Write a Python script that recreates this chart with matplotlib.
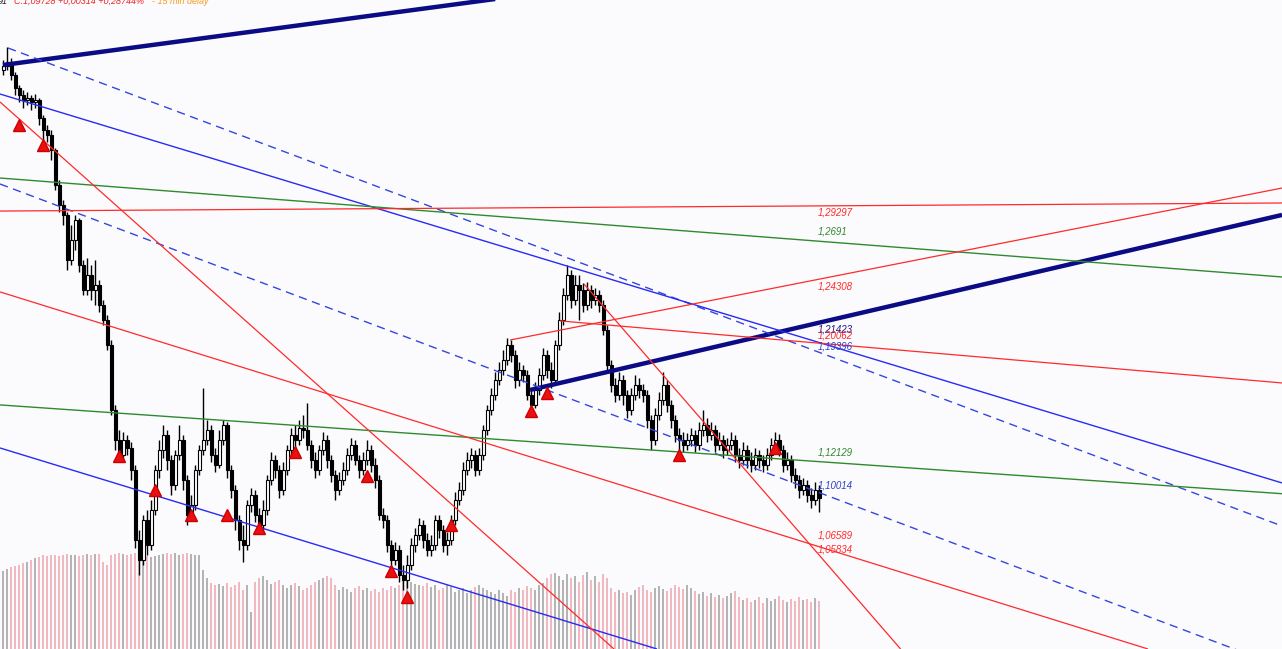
import matplotlib.pyplot as plt
import numpy as np

# 15 min candles, bar index 0..204
closes = [1.3862, 1.3888, 1.3801, 1.3714, 1.3667, 1.3634, 1.3647, 1.3621, 1.3634, 1.3514,
          1.3433, 1.3400, 1.3300, 1.3065, 1.2931, 1.2865, 1.2564, 1.2698, 1.2831, 1.2530,
          1.2363, 1.2463, 1.2363, 1.2396, 1.2263, 1.2162, 1.1995, 1.1560, 1.1359, 1.1259,
          1.1359, 1.1306, 1.1159, 1.0691, 1.0557, 1.0824, 1.0657, 1.0891, 1.1159, 1.1292,
          1.1393, 1.1226, 1.1058, 1.1259, 1.1359, 1.1092, 1.0858, 1.0925, 1.1159, 1.1292,
          1.1359, 1.1426, 1.1259, 1.1192, 1.1359, 1.1460, 1.1159, 1.1025, 1.0824, 1.0691,
          1.0657, 1.0925, 1.0991, 1.0858, 1.0791, 1.0891, 1.1092, 1.1226, 1.1159, 1.1025,
          1.1159, 1.1292, 1.1393, 1.1359, 1.1440, 1.1426, 1.1326, 1.1226, 1.1159, 1.1292,
          1.1359, 1.1226, 1.1125, 1.1025, 1.1092, 1.1159, 1.1259, 1.1326, 1.1226, 1.1159,
          1.1226, 1.1292, 1.1192, 1.1092, 1.0858, 1.0824, 1.0657, 1.0557, 1.0624, 1.0456,
          1.0423, 1.0523, 1.0657, 1.0724, 1.0791, 1.0691, 1.0624, 1.0657, 1.0824, 1.0757,
          1.0657, 1.0691, 1.0824, 1.0958, 1.1025, 1.1159, 1.1226, 1.1259, 1.1159, 1.1259,
          1.1426, 1.1560, 1.1660, 1.1761, 1.1828, 1.1895, 1.1995, 1.1928, 1.1761, 1.1828,
          1.1794, 1.1660, 1.1594, 1.1694, 1.1794, 1.1928, 1.1828, 1.1761, 1.1995, 1.2162,
          1.2329, 1.2463, 1.2296, 1.2396, 1.2363, 1.2263, 1.2363, 1.2296, 1.2329, 1.2263,
          1.2095, 1.1861, 1.1727, 1.1660, 1.1761, 1.1660, 1.1560, 1.1660, 1.1727, 1.1694,
          1.1660, 1.1493, 1.1359, 1.1527, 1.1627, 1.1727, 1.1594, 1.1493, 1.1393, 1.1359,
          1.1326, 1.1359, 1.1393, 1.1326, 1.1426, 1.1460, 1.1393, 1.1426, 1.1326, 1.1359,
          1.1292, 1.1326, 1.1359, 1.1259, 1.1226, 1.1292, 1.1226, 1.1192, 1.1259, 1.1226,
          1.1192, 1.1259, 1.1326, 1.1359, 1.1292, 1.1192, 1.1226, 1.1125, 1.1092, 1.1025,
          1.1058, 1.0991, 1.0958, 1.1025, 1.0973]

highs = [1.3902, 1.3989, 1.3915, 1.3821, 1.3734, 1.3701, 1.3688, 1.3667, 1.3674, 1.3647,
         1.3534, 1.3467, 1.3433, 1.3313, 1.3099, 1.2965, 1.2885, 1.2798, 1.2865, 1.2845,
         1.2564, 1.2577, 1.2530, 1.2564, 1.2430, 1.2296, 1.2196, 1.2028, 1.1594, 1.1426,
         1.1413, 1.1393, 1.1346, 1.1192, 1.0757, 1.0858, 1.0891, 1.0958, 1.1192, 1.1359,
         1.1460, 1.1426, 1.1259, 1.1292, 1.1460, 1.1393, 1.1125, 1.0991, 1.1192, 1.1326,
         1.1707, 1.1493, 1.1460, 1.1306, 1.1426, 1.1493, 1.1480, 1.1192, 1.1058, 1.0858,
         1.0791, 1.0958, 1.1038, 1.1025, 1.0905, 1.0958, 1.1125, 1.1279, 1.1259, 1.1192,
         1.1212, 1.1326, 1.1440, 1.1460, 1.1493, 1.1527, 1.1607, 1.1359, 1.1279, 1.1326,
         1.1413, 1.1393, 1.1259, 1.1159, 1.1145, 1.1212, 1.1306, 1.1373, 1.1359, 1.1259,
         1.1279, 1.1359, 1.1326, 1.1239, 1.1125, 1.0905, 1.0858, 1.0691, 1.0677, 1.0657,
         1.0523, 1.0590, 1.0704, 1.0771, 1.0838, 1.0824, 1.0737, 1.0724, 1.0858, 1.0858,
         1.0791, 1.0744, 1.0858, 1.1012, 1.1078, 1.1212, 1.1279, 1.1306, 1.1292, 1.1306,
         1.1460, 1.1594, 1.1707, 1.1814, 1.1881, 1.1961, 1.2042, 1.2028, 1.1961, 1.1881,
         1.1861, 1.1828, 1.1707, 1.1747, 1.1841, 1.1975, 1.1961, 1.1881, 1.2028, 1.2216,
         1.2376, 1.2530, 1.2497, 1.2463, 1.2463, 1.2410, 1.2416, 1.2396, 1.2376, 1.2363,
         1.2296, 1.2129, 1.1895, 1.1774, 1.1814, 1.1794, 1.1694, 1.1707, 1.1794, 1.1774,
         1.1734, 1.1694, 1.1527, 1.1573, 1.1681, 1.1814, 1.1761, 1.1627, 1.1527, 1.1440,
         1.1413, 1.1406, 1.1440, 1.1426, 1.1480, 1.1560, 1.1507, 1.1480, 1.1460, 1.1413,
         1.1393, 1.1373, 1.1413, 1.1393, 1.1306, 1.1346, 1.1326, 1.1279, 1.1306, 1.1292,
         1.1259, 1.1306, 1.1373, 1.1413, 1.1400, 1.1326, 1.1279, 1.1259, 1.1172, 1.1125,
         1.1105, 1.1092, 1.1038, 1.1078, 1.1058]

lows = [1.3801, 1.3835, 1.3768, 1.3667, 1.3621, 1.3580, 1.3601, 1.3567, 1.3580, 1.3467,
        1.3367, 1.3353, 1.3233, 1.3032, 1.2885, 1.2798, 1.2497, 1.2530, 1.2631, 1.2483,
        1.2329, 1.2329, 1.2296, 1.2263, 1.2216, 1.2129, 1.1961, 1.1527, 1.1292, 1.1226,
        1.1226, 1.1259, 1.1092, 1.0637, 1.0456, 1.0523, 1.0590, 1.0624, 1.0858, 1.1105,
        1.1239, 1.1159, 1.0991, 1.1025, 1.1226, 1.1025, 1.0791, 1.0824, 1.0891, 1.1125,
        1.1259, 1.1326, 1.1212, 1.1145, 1.1172, 1.1326, 1.1105, 1.0971, 1.0757, 1.0624,
        1.0543, 1.0624, 1.0878, 1.0811, 1.0744, 1.0757, 1.0858, 1.1058, 1.1105, 1.0971,
        1.0991, 1.1125, 1.1259, 1.1306, 1.1326, 1.1373, 1.1292, 1.1172, 1.1105, 1.1125,
        1.1259, 1.1172, 1.1078, 1.0958, 1.0991, 1.1058, 1.1125, 1.1226, 1.1192, 1.1105,
        1.1125, 1.1192, 1.1145, 1.1038, 1.0824, 1.0771, 1.0610, 1.0490, 1.0523, 1.0409,
        1.0356, 1.0369, 1.0490, 1.0610, 1.0691, 1.0637, 1.0583, 1.0583, 1.0624, 1.0704,
        1.0610, 1.0590, 1.0657, 1.0791, 1.0925, 1.0991, 1.1125, 1.1172, 1.1118, 1.1125,
        1.1226, 1.1393, 1.1527, 1.1627, 1.1727, 1.1794, 1.1861, 1.1881, 1.1707, 1.1721,
        1.1747, 1.1627, 1.1560, 1.1573, 1.1660, 1.1761, 1.1774, 1.1707, 1.1727, 1.1961,
        1.2129, 1.2296, 1.2242, 1.2263, 1.2162, 1.2216, 1.2229, 1.2242, 1.2263, 1.2216,
        1.2062, 1.1814, 1.1681, 1.1614, 1.1627, 1.1594, 1.1507, 1.1527, 1.1627, 1.1640,
        1.1614, 1.1440, 1.1292, 1.1326, 1.1493, 1.1594, 1.1547, 1.1440, 1.1346, 1.1292,
        1.1279, 1.1292, 1.1319, 1.1279, 1.1292, 1.1386, 1.1346, 1.1359, 1.1279, 1.1292,
        1.1239, 1.1259, 1.1292, 1.1212, 1.1172, 1.1192, 1.1172, 1.1145, 1.1159, 1.1172,
        1.1145, 1.1159, 1.1226, 1.1292, 1.1252, 1.1145, 1.1159, 1.1078, 1.1038, 1.0971,
        1.0991, 1.0944, 1.0905, 1.0925, 1.0878]

first_open = 1.3835

volumes = [780, 800, 820, 830, 840, 860, 870, 890, 910, 920,
           940, 930, 945, 940, 935, 945, 950, 940, 945, 935,
           940, 950, 945, 950, 955, 870, 840, 940, 955, 960,
           950, 945, 955, 960, 950, 940, 935, 920, 930, 945,
           955, 960, 950, 960, 945, 955, 960, 950, 940, 945,
           790, 710, 660, 640, 650, 630, 660, 620, 640, 670,
           590, 640, 370, 670, 710, 730, 690, 650, 670, 690,
           640, 610, 640, 660, 630, 590, 610, 640, 670, 690,
           710, 730, 710, 640, 590, 620, 600, 570, 610, 630,
           590, 610, 580, 600, 570, 610, 590, 630, 610, 640,
           690, 710, 670, 650, 640, 630, 660, 620, 640, 590,
           610, 640, 620, 570, 590, 610, 560, 590, 620, 640,
           610, 590, 570, 550, 590, 560, 530, 590, 570, 610,
           590, 630, 610, 590, 640, 660, 710, 750, 760, 730,
           690, 750, 710, 730, 670, 740, 770, 690, 730, 670,
           750, 710, 610, 570, 590, 560, 570, 540, 590, 620,
           640, 590, 570, 610, 630, 600, 580, 610, 640, 620,
           600, 640, 610, 580, 550, 570, 530, 560, 520, 540,
           510, 530, 560, 580, 520, 490, 510, 470, 490, 520,
           460, 510, 480, 500, 530, 490, 470, 500, 480, 520,
           490, 500, 470, 510, 480]

# red signal triangles
signal_bar = [4, 10, 29, 38, 47, 56, 64, 73, 91, 97, 101, 112, 132, 136, 169, 193]
signal_price = [1.3467, 1.3333, 1.1252, 1.1025, 1.0858, 1.0858, 1.0771, 1.1279,
                1.1119, 1.0483, 1.0309, 1.0791, 1.1553, 1.1674, 1.1259, 1.1306]

# trend lines: (bar, price) -> (bar, price)
line_bar0 = [0, 131.75, 1.25, -0.75, -0.75, -0.75, -0.75, -0.75, -0.75, -0.75, -0.75, 145.25, 126.75, 139.25]
line_p0 = [1.3868, 1.1694, 1.3982, 1.3674, 1.1306, 1.3072, 1.3112, 1.1594, 1.2891, 1.3621, 1.2350, 1.2403, 1.2028, 1.2156]
line_bar1 = [126.75, 319.75, 319.75, 319.75, 163.5, 319.75, 319.75, 319.75, 319.75, 152.75, 286.25, 224.4, 319.75, 319.75]
line_p1 = [1.4323, 1.2865, 1.0784, 1.1072, 0.9961, 0.9841, 1.2450, 1.1000, 1.2945, 0.9961, 0.9961, 0.9961, 1.3045, 1.1741]
line_kind = ['thick', 'thick', 'dash', 'blue', 'blue', 'dash', 'green', 'green',
             'red', 'red', 'red', 'red', 'red', 'red']

label_text = ['1,29297', '1,2691', '1,24308', '1,21423', '1,20062', '1,19396',
              '1,12129', '1,10014', '1,06589', '1,05834']
label_value = [1.29297, 1.2691, 1.24308, 1.21423, 1.20062, 1.19396,
               1.12129, 1.10014, 1.06589, 1.05834]
label_kind = ['red', 'green', 'red', 'thick', 'red', 'dash', 'green', 'dash', 'red', 'red']
label_shift = [7, -9, 7, 7, -8, -7, -9, -8, -9, -6]   # pixels, + is down

styles = {
    'thick': dict(color='#0b0b86', lw=3.2, ls='-'),
    'dash': dict(color='#3347dd', lw=1.0, ls=(0, (6, 4))),
    'blue': dict(color='#2a2af5', lw=1.0, ls='-'),
    'green': dict(color='#2f8a2f', lw=1.0, ls='-'),
    'red': dict(color='#ff2a2a', lw=0.9, ls='-'),
}
label_colors = {'red': '#ff2a2a', 'green': '#2f8a2f', 'thick': '#1a1a8a', 'dash': '#2f3fd0'}

bg = '#fbfbfd'
fig = plt.figure(figsize=(12.82, 6.49), dpi=100, facecolor=bg)
ax = fig.add_axes([0, 0, 1, 1])
axv = ax.twinx()

x = np.arange(len(closes))
o = np.array([first_open] + closes[:-1])
c = np.array(closes)
up = c >= o

# volume in the background
vol_colors = np.where(up, '#b4b4b4', '#f0b9bf')
axv.bar(x, volumes, width=0.5, color=vol_colors, linewidth=0)
axv.set_ylim(0, 6490)
axv.set_axis_off()
ax.set_zorder(axv.get_zorder() + 1)
ax.patch.set_visible(False)

# candles
ax.vlines(x, lows, highs, color='black', lw=1, zorder=2)
body_lo = np.minimum(o, c)
body_h = np.maximum(np.abs(c - o), 0.0004)
ax.bar(x, body_h, bottom=body_lo, width=0.75,
       color=np.where(up, 'white', 'black'), edgecolor='black', linewidth=0.8, zorder=2.5)

# trend lines
for b0, p0, b1, p1, k in zip(line_bar0, line_p0, line_bar1, line_p1, line_kind):
    ax.plot([b0, b1], [p0, p1], solid_capstyle='butt', zorder=3, **styles[k])

ax.plot(signal_bar, signal_price, ls='none', marker='^', ms=8, color='#e81010',
        markeredgecolor='#d00000', zorder=4)

for t, v, k, s in zip(label_text, label_value, label_kind, label_shift):
    ax.annotate(t, (203.75, v), xytext=(0, -s * 0.72), textcoords='offset points',
                ha='left', va='center', fontsize=7, fontstyle='italic',
                family='Liberation Sans', color=label_colors[k], zorder=5)

ax.set_xlim(-0.75, 319.75)
ax.set_ylim(0.9961, 1.4303)
ax.set_axis_off()

# header, half cut at the top
hy = 1 - 1 / 649
fig.text(-2 / 1282, hy, '91', color='#222222', fontsize=6.5, fontstyle='italic',
         family='Liberation Sans', va='center')
fig.text(14 / 1282, hy, 'C:1,09728 +0,00314 +0,28744%', color='#ee2222', fontsize=6.5,
         fontstyle='italic', family='Liberation Sans', va='center')
fig.text(152 / 1282, hy, '- 15 min delay', color='#f59a1a', fontsize=6.5,
         fontstyle='italic', family='Liberation Sans', va='center')

fig.savefig('out.png', dpi=100, facecolor=bg)
